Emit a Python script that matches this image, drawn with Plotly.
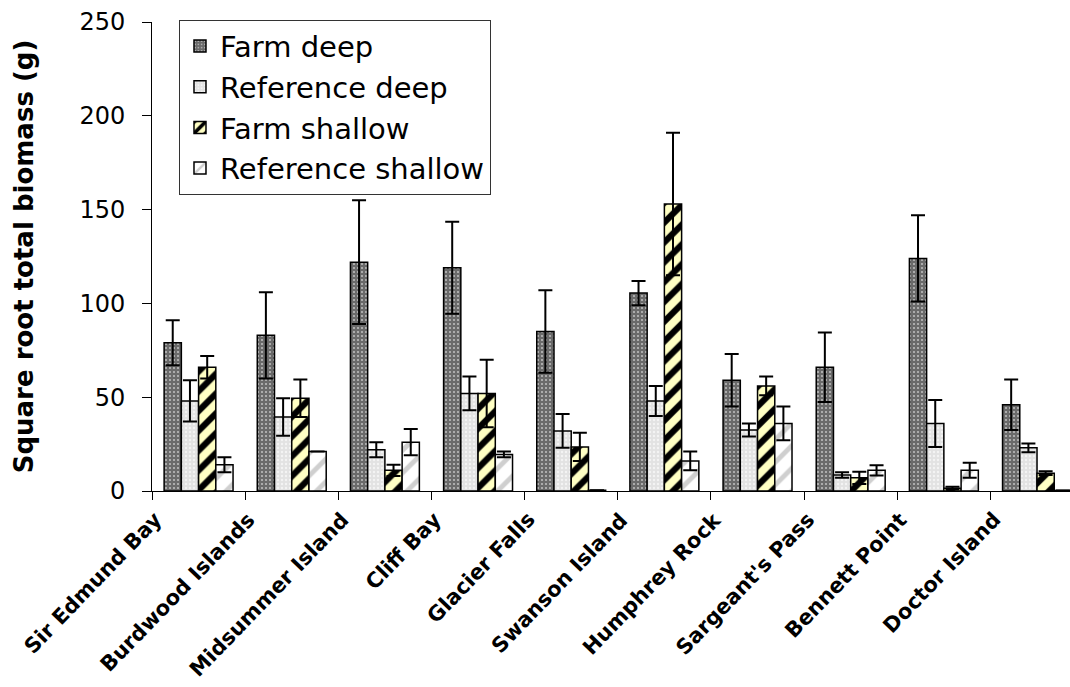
import plotly.graph_objects as go

# Sampling sites along the x axis
sites = [
    "Sir Edmund Bay", "Burdwood Islands", "Midsummer Island", "Cliff Bay",
    "Glacier Falls", "Swanson Island", "Humphrey Rock", "Sargeant's Pass",
    "Bennett Point", "Doctor Island",
]

# Square root total biomass (g): means and standard errors per treatment
farm_deep = [79, 83, 122, 119, 85, 105.5, 59, 66, 124, 46]
farm_deep_err = [12, 23, 33, 24.5, 22, 6.5, 14, 18.5, 23, 13.5]

ref_deep = [48, 39.5, 22, 52, 32, 48, 32.5, 8.5, 36, 23]
ref_deep_err = [11, 10, 4, 9, 9, 8, 3.5, 1.5, 12.5, 2.3]

farm_shallow = [66, 49.5, 11, 52, 23.5, 153, 56, 7, 1.5, 9.5]
farm_shallow_err = [6, 10, 3, 18, 7.5, 38, 5, 3.3, 0.7, 1]

ref_shallow = [14, 21, 26, 19.5, 0.4, 16, 36, 11, 11, 0.3]
ref_shallow_err = [4, 0, 7, 1.5, 0, 5, 9, 2.7, 4, 0]

y_ticks = [0, 50, 100, 150, 200, 250]

series = [
    ("Farm deep", farm_deep, farm_deep_err,
     dict(shape=".", bgcolor="#6a6a6a", fgcolor="#bcbcbc", size=4, solidity=0.22)),
    ("Reference deep", ref_deep, ref_deep_err,
     dict(shape=".", bgcolor="#e2e2e2", fgcolor="#f4f4f4", size=4, solidity=0.3)),
    ("Farm shallow", farm_shallow, farm_shallow_err,
     dict(shape="/", bgcolor="#ffffc4", fgcolor="#000000", size=14, solidity=0.45)),
    ("Reference shallow", ref_shallow, ref_shallow_err,
     dict(shape="/", bgcolor="#ffffff", fgcolor="#cfcfcf", size=16, solidity=0.3)),
]

fig = go.Figure()
for i, (name, vals, errs, pat) in enumerate(series):
    fig.add_trace(go.Bar(
        name=name,
        x=sites,
        y=vals,
        marker=dict(
            color=pat["bgcolor"],
            line=dict(color="#000000", width=1.5),
            pattern=dict(fillmode="replace", **pat),
        ),
        error_y=dict(type="data", array=errs, visible=True,
                     color="#000000", thickness=2, width=7),
    ))

# Rotated site names under each category
label_font = dict(family="DejaVu Sans", size=21, color="#000000", weight="bold")
for site in sites:
    fig.add_annotation(
        x=site, xref="x", y=0, yref="paper",
        text=site, showarrow=False, textangle=-46,
        xanchor="right", yanchor="top",
        xshift=-29, yshift=-14,
        font=label_font,
    )

fig.update_layout(
    width=1070,
    height=687,
    margin=dict(l=152, r=0, t=22, b=196, pad=0),
    paper_bgcolor="white",
    plot_bgcolor="white",
    barmode="group",
    bargap=0.26,
    bargroupgap=0,
    font=dict(family="DejaVu Sans", color="#000000"),
    showlegend=True,
    legend=dict(
        x=0.0294, y=1.005, xanchor="left", yanchor="top",
        bgcolor="white", bordercolor="#333333", borderwidth=1,
        font=dict(family="DejaVu Sans", size=29, color="#000000"),
        tracegroupgap=0,
        itemclick=False,
    ),
)

fig.update_xaxes(
    type="category",
    range=[-0.5, 9.354],
    showline=True, linecolor="#000000", linewidth=1,
    ticks="outside", tickson="boundaries", ticklen=8, tickcolor="#000000",
    showticklabels=False,
    showgrid=False, zeroline=False,
)

fig.update_yaxes(
    range=[0, 250],
    tickvals=y_ticks,
    showline=True, linecolor="#000000", linewidth=1,
    ticks="outside", ticklen=9, tickcolor="#000000",
    ticklabelstandoff=12,
    tickfont=dict(family="DejaVu Sans", size=24, color="#000000"),
    title=dict(text="Square root total biomass (g)",
               font=dict(family="DejaVu Sans", size=26, color="#000000", weight="bold"),
               standoff=38),
    showgrid=False, zeroline=False,
)

fig.write_html("out.html", config={"displayModeBar": False})
